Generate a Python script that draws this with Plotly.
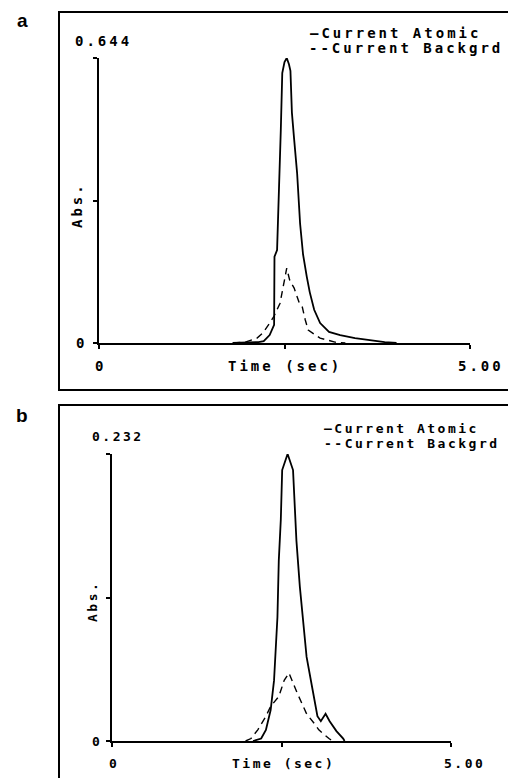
import plotly.graph_objects as go

W, H = 508, 778

# ---- Panel a data ----
a_atomic_t = [1.80, 2.00, 2.15, 2.22, 2.30, 2.36, 2.365, 2.40, 2.43, 2.45, 2.47, 2.50, 2.53, 2.56, 2.58,
              2.60, 2.63, 2.67, 2.71, 2.75, 2.80, 2.84, 2.90, 2.98, 3.10, 3.25, 3.45, 3.65, 3.85, 4.01]
a_atomic_y = [0.0, 0.001, 0.002, 0.004, 0.018, 0.041, 0.195, 0.21, 0.36, 0.48, 0.61, 0.635, 0.644, 0.630, 0.615,
              0.52, 0.46, 0.384, 0.27, 0.20, 0.15, 0.115, 0.075, 0.045, 0.025, 0.018, 0.011, 0.006, 0.002, 0.0]
a_backg_t = [1.81, 1.97, 2.13, 2.21, 2.30, 2.36, 2.44, 2.50, 2.53, 2.57, 2.63, 2.70, 2.74, 2.78, 2.82, 2.98, 3.18, 3.32]
a_backg_y = [0.0, 0.002, 0.011, 0.023, 0.045, 0.061, 0.090, 0.142, 0.169, 0.142, 0.124, 0.090, 0.081, 0.052,
             0.029, 0.011, 0.002, 0.0]

# ---- Panel b data ----
b_atomic_t = [2.08, 2.20, 2.27, 2.34, 2.39, 2.44, 2.46, 2.49, 2.51, 2.59, 2.67, 2.72, 2.77, 2.87, 2.96, 3.03,
              3.08, 3.15, 3.21, 3.31, 3.41, 3.43]
b_atomic_y = [0.0, 0.002, 0.009, 0.025, 0.049, 0.100, 0.146, 0.179, 0.219, 0.232, 0.219, 0.162, 0.125, 0.068,
              0.041, 0.020, 0.016, 0.022, 0.016, 0.008, 0.002, 0.0]
b_backg_t = [1.97, 2.05, 2.15, 2.27, 2.34, 2.46, 2.54, 2.61, 2.73, 2.81, 2.87, 3.00, 3.05, 3.20, 3.25]
b_backg_y = [0.0, 0.002, 0.009, 0.020, 0.028, 0.036, 0.049, 0.055, 0.039, 0.030, 0.022, 0.013, 0.009, 0.002, 0.0]

a_max = 0.644
b_max = 0.232
t_max = 5.0
x_tick_labels = ["0", "Time (sec)", "5.00"]
legend_labels = ["\u2014Current Atomic", "--Current Backgrd"]
panel_labels = ["a", "b"]

MONO = "DejaVu Sans Mono"


def px(x):
    return x / W


def py(y):
    return 1 - y / H


def sp(t, ls):
    return f'<span style="letter-spacing:{ls}px">{t}</span>'


fig = go.Figure()

fig.add_trace(go.Scatter(x=a_atomic_t, y=a_atomic_y, mode="lines", xaxis="x", yaxis="y",
                         line=dict(color="black", width=1.8), showlegend=False))
fig.add_trace(go.Scatter(x=a_backg_t, y=a_backg_y, mode="lines", xaxis="x", yaxis="y",
                         line=dict(color="black", width=1.4, dash="7px,5px"), showlegend=False))
fig.add_trace(go.Scatter(x=b_atomic_t, y=b_atomic_y, mode="lines", xaxis="x2", yaxis="y2",
                         line=dict(color="black", width=1.8), showlegend=False))
fig.add_trace(go.Scatter(x=b_backg_t, y=b_backg_y, mode="lines", xaxis="x2", yaxis="y2",
                         line=dict(color="black", width=1.4, dash="7px,5px"), showlegend=False))

axis_common = dict(showline=True, linecolor="black", linewidth=2, ticks="outside", ticklen=4,
                   tickwidth=2, tickcolor="black", showgrid=False, zeroline=False,
                   showticklabels=False, fixedrange=True)

fig.update_layout(
    width=W, height=H, margin=dict(l=0, r=0, t=0, b=0),
    paper_bgcolor="white", plot_bgcolor="white",
    xaxis=dict(domain=[px(99), px(470)], range=[0, t_max], anchor="y",
               tickvals=[0, t_max / 2, t_max], **axis_common),
    yaxis=dict(domain=[py(343), py(58)], range=[0, a_max], anchor="x",
               tickvals=[0, a_max / 2, a_max], **axis_common),
    xaxis2=dict(domain=[px(112), px(451)], range=[0, t_max], anchor="y2",
                tickvals=[0, t_max / 2, t_max], **axis_common),
    yaxis2=dict(domain=[py(741), py(454)], range=[0, b_max], anchor="x2",
                tickvals=[0, b_max / 2, b_max], **axis_common),
)

# frames
fig.add_shape(type="rect", xref="paper", yref="paper", x0=px(59), x1=px(515), y0=py(390), y1=py(12),
              line=dict(color="black", width=2), layer="below")
fig.add_shape(type="rect", xref="paper", yref="paper", x0=px(59), x1=px(515), y0=py(800), y1=py(405),
              line=dict(color="black", width=2), layer="below")

mono_a = dict(family=MONO, size=14, color="black", weight="bold")
mono_b = dict(family=MONO, size=13, color="black", weight="bold")
LS_A = 3.0
LS_B = 2.5
label_font = dict(family="Liberation Sans", size=19, color="black", weight="bold")


def ann(x, y, text, font, xanchor="center", angle=0):
    fig.add_annotation(x=px(x), y=py(y), xref="paper", yref="paper", text=text, showarrow=False,
                       xanchor=xanchor, yanchor="middle", textangle=angle, font=font)


# panel a texts
ann(22, 21, panel_labels[0], label_font)
ann(73, 41, sp(f"{a_max:.3f}", LS_A), mono_a, xanchor="left")
ann(80, 343, x_tick_labels[0], mono_a)
ann(77, 205, sp("Abs.", LS_A), mono_a, angle=-90)
ann(99, 366, x_tick_labels[0], mono_a)
ann(285, 366, sp(x_tick_labels[1], LS_A), mono_a)
ann(481, 366, sp(x_tick_labels[2], LS_A), mono_a)
ann(308, 33, sp(legend_labels[0], LS_A), mono_a, xanchor="left")
ann(307, 48, sp(legend_labels[1], LS_A), mono_a, xanchor="left")

# panel b texts
ann(22, 415, panel_labels[1], label_font)
ann(90, 436, sp(f"{b_max:.3f}", LS_B), mono_b, xanchor="left")
ann(96, 741, x_tick_labels[0], mono_b)
ann(92, 602, sp("Abs.", LS_B), mono_b, angle=-90)
ann(113, 763, x_tick_labels[0], mono_b)
ann(283, 763, sp(x_tick_labels[1], LS_B), mono_b)
ann(464, 763, sp(x_tick_labels[2], LS_B), mono_b)
ann(322, 428, sp(legend_labels[0], LS_B), mono_b, xanchor="left")
ann(322, 443, sp(legend_labels[1], LS_B), mono_b, xanchor="left")

fig.write_html("out.html")
